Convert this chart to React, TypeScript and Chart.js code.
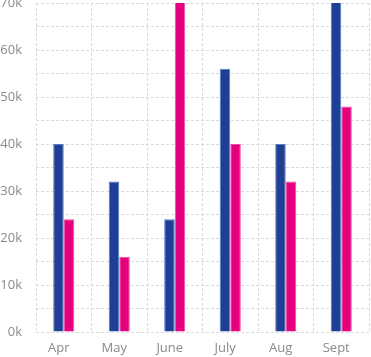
import React, { useEffect, useRef } from "react";
import { Chart, registerables } from "chart.js";

Chart.register(...registerables);

const months = ["Apr", "May", "June", "July", "Aug", "Sept"];
const seriesBlue = [40000, 32000, 24000, 56000, 40000, 80000];
const seriesPink = [24000, 16000, 80000, 40000, 32000, 48000];
const yMax = 70000;
const yStep = 5000;

export default function App() {
  const ref = useRef<HTMLCanvasElement | null>(null);
  useEffect(() => {
    if (!ref.current) return;
    const gridColor = "#dadada";
    const chart = new Chart(ref.current, {
      type: "bar",
      data: {
        labels: months,
        datasets: [
          {
            label: "A",
            data: seriesBlue,
            backgroundColor: "#1f3f96",
            borderColor: "#4f7fc4",
            borderWidth: 1,
            categoryPercentage: 0.38,
            barPercentage: 1.0,
          },
          {
            label: "B",
            data: seriesPink,
            backgroundColor: "#e5007d",
            borderColor: "#ef4aa0",
            borderWidth: 1,
            categoryPercentage: 0.38,
            barPercentage: 1.0,
          },
        ],
      },
      options: {
        animation: false,
        responsive: false,
        maintainAspectRatio: false,
        layout: { padding: { top: 3, right: 2, left: 0, bottom: 0 } },
        plugins: { legend: { display: false }, tooltip: { enabled: false } },
        scales: {
          x: {
            grid: { color: gridColor, drawTicks: false, offset: true },
            border: { display: false, dash: [3, 2] },
            ticks: {
              color: "#8a8a8a",
              font: { family: "'Open Sans'", size: 13 },
              padding: 8,
              labelOffset: -5,
              maxRotation: 0,
            },
            afterFit: (s: any) => {
              s.height = 25;
            },
          },
          y: {
            min: 0,
            max: yMax,
            grid: { color: gridColor, drawTicks: false },
            border: { display: false, dash: [3, 2] },
            ticks: {
              stepSize: yStep,
              color: "#8a8a8a",
              font: { family: "'Open Sans'", size: 13 },
              padding: 14,
              callback: (v: any) => (Number(v) % 10000 === 0 ? Number(v) / 1000 + "k" : ""),
            },
            afterFit: (s: any) => {
              s.width = 36;
              s.paddingTop = 0;
              s.paddingBottom = 0;
            },
          },
        },
      } as any,
    });
    return () => chart.destroy();
  }, []);
  return (
    <div style={{ position: "fixed", left: 0, top: 0, width: 371, height: 357, background: "#fff" }}>
      <canvas ref={ref} width={371} height={357} style={{ display: "block" }} />
    </div>
  );
}
